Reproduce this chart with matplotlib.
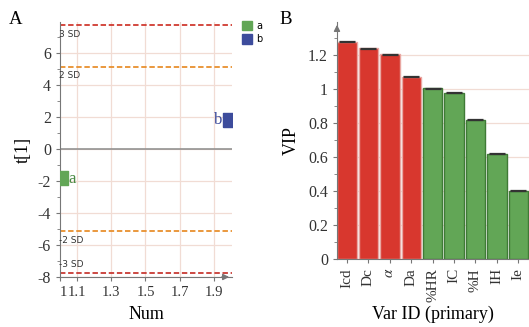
import matplotlib
matplotlib.use("Agg")
import matplotlib.pyplot as plt
from matplotlib.patches import Patch
from matplotlib.ticker import MultipleLocator
import matplotlib.transforms as mtransforms
import numpy as np

# ---- Data ----
# Panel A: score plot
obs_names = ["a", "b"]
obs_num = [1.02, 1.98]
obs_t1 = [-1.84, 1.84]
sd_levels = [7.75, 5.15, -5.15, -7.75]
sd_labels = ["3 SD", "2 SD", "-2 SD", "-3 SD"]
a_xticks = [1.0, 1.1, 1.3, 1.5, 1.7, 1.9]
a_xticklabels = ["1", "1.1", "1.3", "1.5", "1.7", "1.9"]
a_yticks = [-8, -6, -4, -2, 0, 2, 4, 6]

# Panel B: VIP plot
vip_vars = ["Icd", "Dc", r"$\alpha$", "Da", "%HR", "IC", "%H", "IH", "Ie"]
vip_values = [1.278, 1.240, 1.203, 1.072, 1.004, 0.978, 0.820, 0.618, 0.402]
vip_err = [0.004, 0.004, 0.004, 0.004, 0.003, 0.003, 0.003, 0.003, 0.003]
vip_group = ["r", "r", "r", "r", "g", "g", "g", "g", "g"]

RED = "#d8372e"
GREEN = "#62a656"
BLUE = "#3d4c9c"
GRID = "#f1dcd4"
AXC = "#777777"

plt.rcParams["font.family"] = ["Liberation Serif", "DejaVu Serif"]
plt.rcParams["mathtext.fontset"] = "stix"
plt.rcParams["axes.unicode_minus"] = False

W, H = 529, 327
fig = plt.figure(figsize=(W / 100, H / 100), dpi=100)

def fx(px):
    return px / W

def fy(py):
    return 1 - py / H

# ---------- Panel A ----------
axA = fig.add_axes([fx(60), fy(277), fx(232) - fx(60), fy(22) - fy(277)])
axA.set_xlim(1.0, 2.006)
axA.set_ylim(-8, 7.94)
axA.set_yticks(a_yticks)
axA.yaxis.set_minor_locator(MultipleLocator(1))
axA.set_xticks(a_xticks)
axA.set_xticklabels(a_xticklabels)
for lbl in axA.get_xticklabels():
    if lbl.get_text() == "1":
        lbl.set_horizontalalignment("left")
        lbl.set_transform(lbl.get_transform() +
                          mtransforms.ScaledTranslation(4 / 100, 0, fig.dpi_scale_trans))
    elif lbl.get_text() == "1.1":
        lbl.set_transform(lbl.get_transform() +
                          mtransforms.ScaledTranslation(-2 / 100, 0, fig.dpi_scale_trans))
for x in a_xticks[1:]:
    axA.axvline(x, color=GRID, lw=0.9, zorder=0)
for y in a_yticks:
    axA.axhline(y, color=GRID, lw=0.9, zorder=0)
axA.axhline(0, color="#8a8a8a", lw=1.1, zorder=1)
sd_colors = ["#d03a30", "#e8902e", "#e8902e", "#c83a34"]
for lvl, lab, c in zip(sd_levels, sd_labels, sd_colors):
    axA.axhline(lvl, color=c, lw=1.3, ls=(0, (3, 1.5)), zorder=2)
    if lab == "-3 SD":
        dy, va = 0.25, "bottom"
    else:
        dy, va = -0.3, "top"
    axA.text(0.995, lvl + dy, lab, fontsize=6.5, va=va, ha="left",
             family=["DejaVu Sans"], color="#333333", zorder=3)

rect = [(-0.62, -1), (0.62, -1), (0.62, 1), (-0.62, 1), (-0.62, -1)]
obs_colors = [GREEN, BLUE]
for name, x, y, c in zip(obs_names, obs_num, obs_t1, obs_colors):
    axA.scatter([x], [y], marker=rect, s=110, color=c, edgecolors=c, zorder=4)
    if name == "a":
        axA.text(x + 0.03, y - 0.05, name, color="#4a8a44", fontsize=12, va="center", ha="left")
    else:
        axA.text(x - 0.03, y - 0.05, name, color=BLUE, fontsize=12, va="center", ha="right")

for s in ["top", "right"]:
    axA.spines[s].set_visible(False)
for s in ["left", "bottom"]:
    axA.spines[s].set_color(AXC)
axA.tick_params(axis="both", which="both", colors=AXC, labelcolor="#333333", length=3)
axA.tick_params(axis="y", labelsize=11.5)
axA.tick_params(axis="x", labelsize=10.5)
axA.tick_params(axis="both", which="minor", length=2)
axA.annotate("", xy=(2.006, -8), xytext=(1.93, -8),
             arrowprops=dict(arrowstyle="-|>", color=AXC, lw=1, mutation_scale=9),
             annotation_clip=False)
axA.set_xlabel("Num", fontsize=13, labelpad=5)
axA.set_ylabel("t[1]", fontsize=13, labelpad=4)
fig.text(fx(9), fy(20), "A", fontsize=13.5, va="center", ha="left")

leg = fig.legend(handles=[Patch(facecolor=GREEN, edgecolor=GREEN, label="a"),
                          Patch(facecolor=BLUE, edgecolor=BLUE, label="b")],
                 loc="upper left", bbox_to_anchor=(fx(233), fy(12)), frameon=False,
                 handlelength=1.1, handleheight=1.1, handletextpad=0.4,
                 labelspacing=0.35, prop={"family": "DejaVu Sans", "size": 7})

# ---------- Panel B ----------
axB = fig.add_axes([fx(337), fy(259), 1 - fx(337), fy(22) - fy(259)])
xpos = np.arange(len(vip_vars))
colors = [RED if g == "r" else GREEN for g in vip_group]
edges = ["#e9a7a2" if g == "r" else "#3f7a36" for g in vip_group]
axB.bar(xpos, vip_values, width=0.9, color=colors, edgecolor=edges, lw=1.0, zorder=2)
axB.errorbar(xpos, vip_values, yerr=vip_err, fmt="none", ecolor="#333333",
             elinewidth=0.8, capsize=5.5, capthick=0.9, zorder=3)
axB.set_xlim(-0.47, 8.5)
axB.set_ylim(0, 1.394)
axB.set_yticks([0, 0.2, 0.4, 0.6, 0.8, 1.0, 1.2])
axB.set_yticklabels(["0", "0.2", "0.4", "0.6", "0.8", "1", "1.2"])
axB.yaxis.set_minor_locator(MultipleLocator(0.1))
for y in [0.2, 0.4, 0.6, 0.8, 1.0, 1.2]:
    axB.axhline(y, color=GRID, lw=0.9, zorder=0)
axB.set_xticks(xpos)
axB.set_xticklabels(vip_vars, rotation=90)
for s in ["top", "right"]:
    axB.spines[s].set_visible(False)
for s in ["left", "bottom"]:
    axB.spines[s].set_color(AXC)
axB.tick_params(axis="both", which="both", colors=AXC, labelcolor="#333333", length=3)
axB.tick_params(axis="y", which="minor", length=2)
axB.tick_params(axis="y", labelsize=11.5)
axB.tick_params(axis="x", labelsize=11)
axB.annotate("", xy=(-0.47, 1.394), xytext=(-0.47, 1.33),
             arrowprops=dict(arrowstyle="-|>", color=AXC, lw=1, mutation_scale=9),
             annotation_clip=False)
axB.set_ylabel("VIP", fontsize=13, labelpad=6)
axB.set_xlabel("Var ID (primary)", fontsize=13, labelpad=3)
fig.text(fx(279), fy(20), "B", fontsize=13.5, va="center", ha="left")

fig.savefig("out.png", dpi=100)
